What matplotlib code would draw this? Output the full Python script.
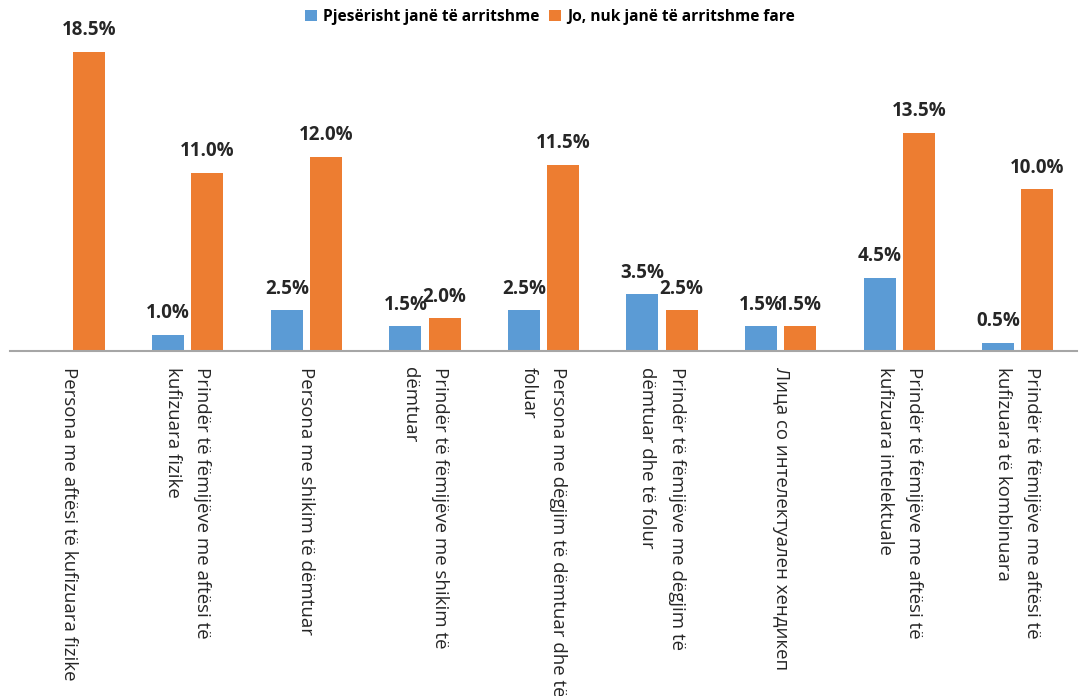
import numpy as np
import matplotlib
matplotlib.use("Agg")
from matplotlib import pyplot as plt

categories = [
    "Persona me aftësi të kufizuara fizike",
    "Prindër të fëmijëve me aftësi të\nkufizuara fizike",
    "Persona me shikim të dëmtuar",
    "Prindër të fëmijëve me shikim të\ndëmtuar",
    "Persona me dëgjim të dëmtuar dhe të\nfoluar",
    "Prindër të fëmijëve me dëgjim të\ndëmtuar dhe të folur",
    "Лица со интелектуален хендикеп",
    "Prindër të fëmijëve me aftësi të\nkufizuara intelektuale",
    "Prindër të fëmijëve me aftësi të\nkufizuara të kombinuara",
]
partial = [0.0, 1.0, 2.5, 1.5, 2.5, 3.5, 1.5, 4.5, 0.5]
not_at_all = [18.5, 11.0, 12.0, 2.0, 11.5, 2.5, 1.5, 13.5, 10.0]
series_names = ["Pjesërisht janë të arritshme", "Jo, nuk janë të arritshme fare"]

blue = "#5B9BD5"
orange = "#ED7D31"

plt.rcParams['font.family'] = ['Open Sans', 'DejaVu Sans']

W, H = 1081, 696
fig = plt.figure(figsize=(W / 100, H / 100), dpi=100)
ax = fig.add_axes([10 / W, (H - 350.7) / H, 1067 / W, (350.7 - 27.7) / H])

x = np.arange(len(categories))
bw = 0.27
off = 0.165
b1 = ax.bar(x - off, partial, bw, color=blue, label=series_names[0])
b2 = ax.bar(x + off, not_at_all, bw, color=orange, label=series_names[1])

for bars, vals in ((b1, partial), (b2, not_at_all)):
    for rect, v in zip(bars, vals):
        if v <= 0:
            continue
        ax.annotate(f"{v:.1f}%", (rect.get_x() + rect.get_width() / 2, v),
                    xytext=(0, 12), textcoords="offset points",
                    ha="center", va="baseline", fontsize=13.5, fontweight="bold",
                    color="#262626")

ax.set_xlim(-0.5, len(categories) - 0.5)
ax.set_ylim(0, 20)
ax.set_yticks([])
ax.set_xticks(x)
ax.set_xticklabels(categories, rotation=270, ha="center", va="top",
                   fontsize=13.4, color="#262626", linespacing=1.8,
                   multialignment="left")
ax.tick_params(axis="x", length=0, pad=12)
for s in ("top", "left", "right"):
    ax.spines[s].set_visible(False)
ax.spines["bottom"].set_color("#A6A6A6")
ax.spines["bottom"].set_linewidth(1.5)

fig.legend(loc="center", bbox_to_anchor=(550 / W, 1 - 17 / H), ncol=2,
           frameon=False, handlelength=0.75, handleheight=0.75,
           handletextpad=0.4, columnspacing=0.6,
           prop={"weight": "bold", "size": 11.2})

fig.savefig("out.png", dpi=100)
